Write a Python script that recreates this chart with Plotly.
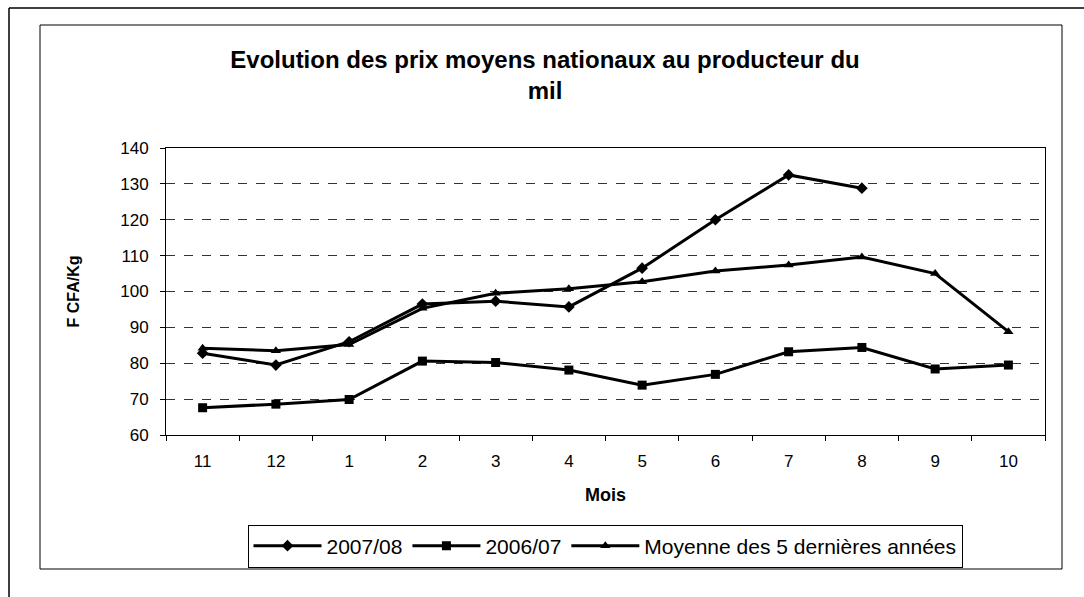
import plotly.graph_objects as go

mois = ["11", "12", "1", "2", "3", "4", "5", "6", "7", "8", "9", "10"]
s_2007_08 = [82.8, 79.5, 86.0, 96.5, 97.3, 95.7, 106.5, 120.0, 132.5, 128.8, None, None]
s_2006_07 = [67.6, 68.6, 69.9, 80.6, 80.2, 78.1, 73.9, 76.9, 83.2, 84.4, 78.4, 79.5]
s_moyenne = [84.2, 83.5, 85.2, 95.3, 99.5, 100.8, 102.7, 105.7, 107.4, 109.6, 105.0, 88.8]

y_ticks = [60, 70, 80, 90, 100, 110, 120, 130, 140]

FONT = "Liberation Sans, Arial, sans-serif"

fig = go.Figure()
series = [
    ("2007/08", s_2007_08, "diamond"),
    ("2006/07", s_2006_07, "square"),
    ("Moyenne des 5 dernières années", s_moyenne, "triangle-up"),
]
for name, vals, sym in series:
    fig.add_trace(go.Scatter(
        x=mois, y=vals, name=name, mode="lines+markers",
        line=dict(color="black", width=3),
        marker=dict(symbol=sym, size=9, color="black"),
        connectgaps=False,
    ))

L, R, T, B = 166, 1045, 148, 435
W, H = 1084, 597
pw, ph = R - L, B - T

def px(x):
    return (x - L) / pw

def py(y):
    return (B - y) / ph

shapes = [
    dict(type="line", xref="paper", yref="paper", x0=px(9), x1=px(9), y0=py(8), y1=py(600),
         line=dict(color="black", width=1.5)),
    dict(type="line", xref="paper", yref="paper", x0=px(9), x1=px(1090), y0=py(8), y1=py(8),
         line=dict(color="black", width=1.5)),
    dict(type="rect", xref="paper", yref="paper", x0=px(40), x1=px(1062), y0=py(25), y1=py(569),
         line=dict(color="black", width=1)),
]

fig.update_layout(
    width=W, height=H,
    margin=dict(l=L, r=W - R, t=T, b=H - B),
    paper_bgcolor="white", plot_bgcolor="white",
    font=dict(family=FONT, color="black", size=17),
    title=dict(
        text="<b>Evolution des prix moyens nationaux au producteur du<br>mil</b>",
        font=dict(family=FONT, size=24, color="black"),
        x=545 / W, xref="container", xanchor="center",
        y=1 - 68 / H, yref="container", yanchor="top",
    ),
    showlegend=True,
    legend=dict(
        orientation="h", x=px(605), xanchor="center", y=py(546), yanchor="middle",
        bordercolor="black", borderwidth=1, bgcolor="white",
        font=dict(family=FONT, size=21, color="black"),
        itemwidth=68, tracegroupgap=0,
    ),
    shapes=shapes,
)

fig.update_xaxes(
    type="category", tickson="boundaries",
    ticks="outside", ticklen=5, tickcolor="black",
    showline=True, linecolor="black", linewidth=1, mirror=True,
    showgrid=False, zeroline=False,
    ticklabelstandoff=11,
    tickfont=dict(family=FONT, size=17, color="black"),
    title=dict(text="<b>Mois</b>", font=dict(family=FONT, size=18, color="black"), standoff=17),
    range=[-0.5, 11.5],
)
fig.update_yaxes(
    range=[60, 140], tickvals=y_ticks, ticktext=[str(v) for v in y_ticks],
    ticks="outside", ticklen=5, tickcolor="black",
    showline=True, linecolor="black", linewidth=1, mirror=True,
    showgrid=True, gridcolor="#333", griddash="dash", gridwidth=1,
    zeroline=False,
    ticklabelstandoff=8,
    tickfont=dict(family=FONT, size=17, color="black"),
    title=dict(text="<b>F CFA/Kg</b>", font=dict(family=FONT, size=16, color="black"), standoff=36),
)

fig.write_html("out.html", config={"displayModeBar": False},
               post_script="document.body.style.margin='0';document.body.style.padding='0';")
